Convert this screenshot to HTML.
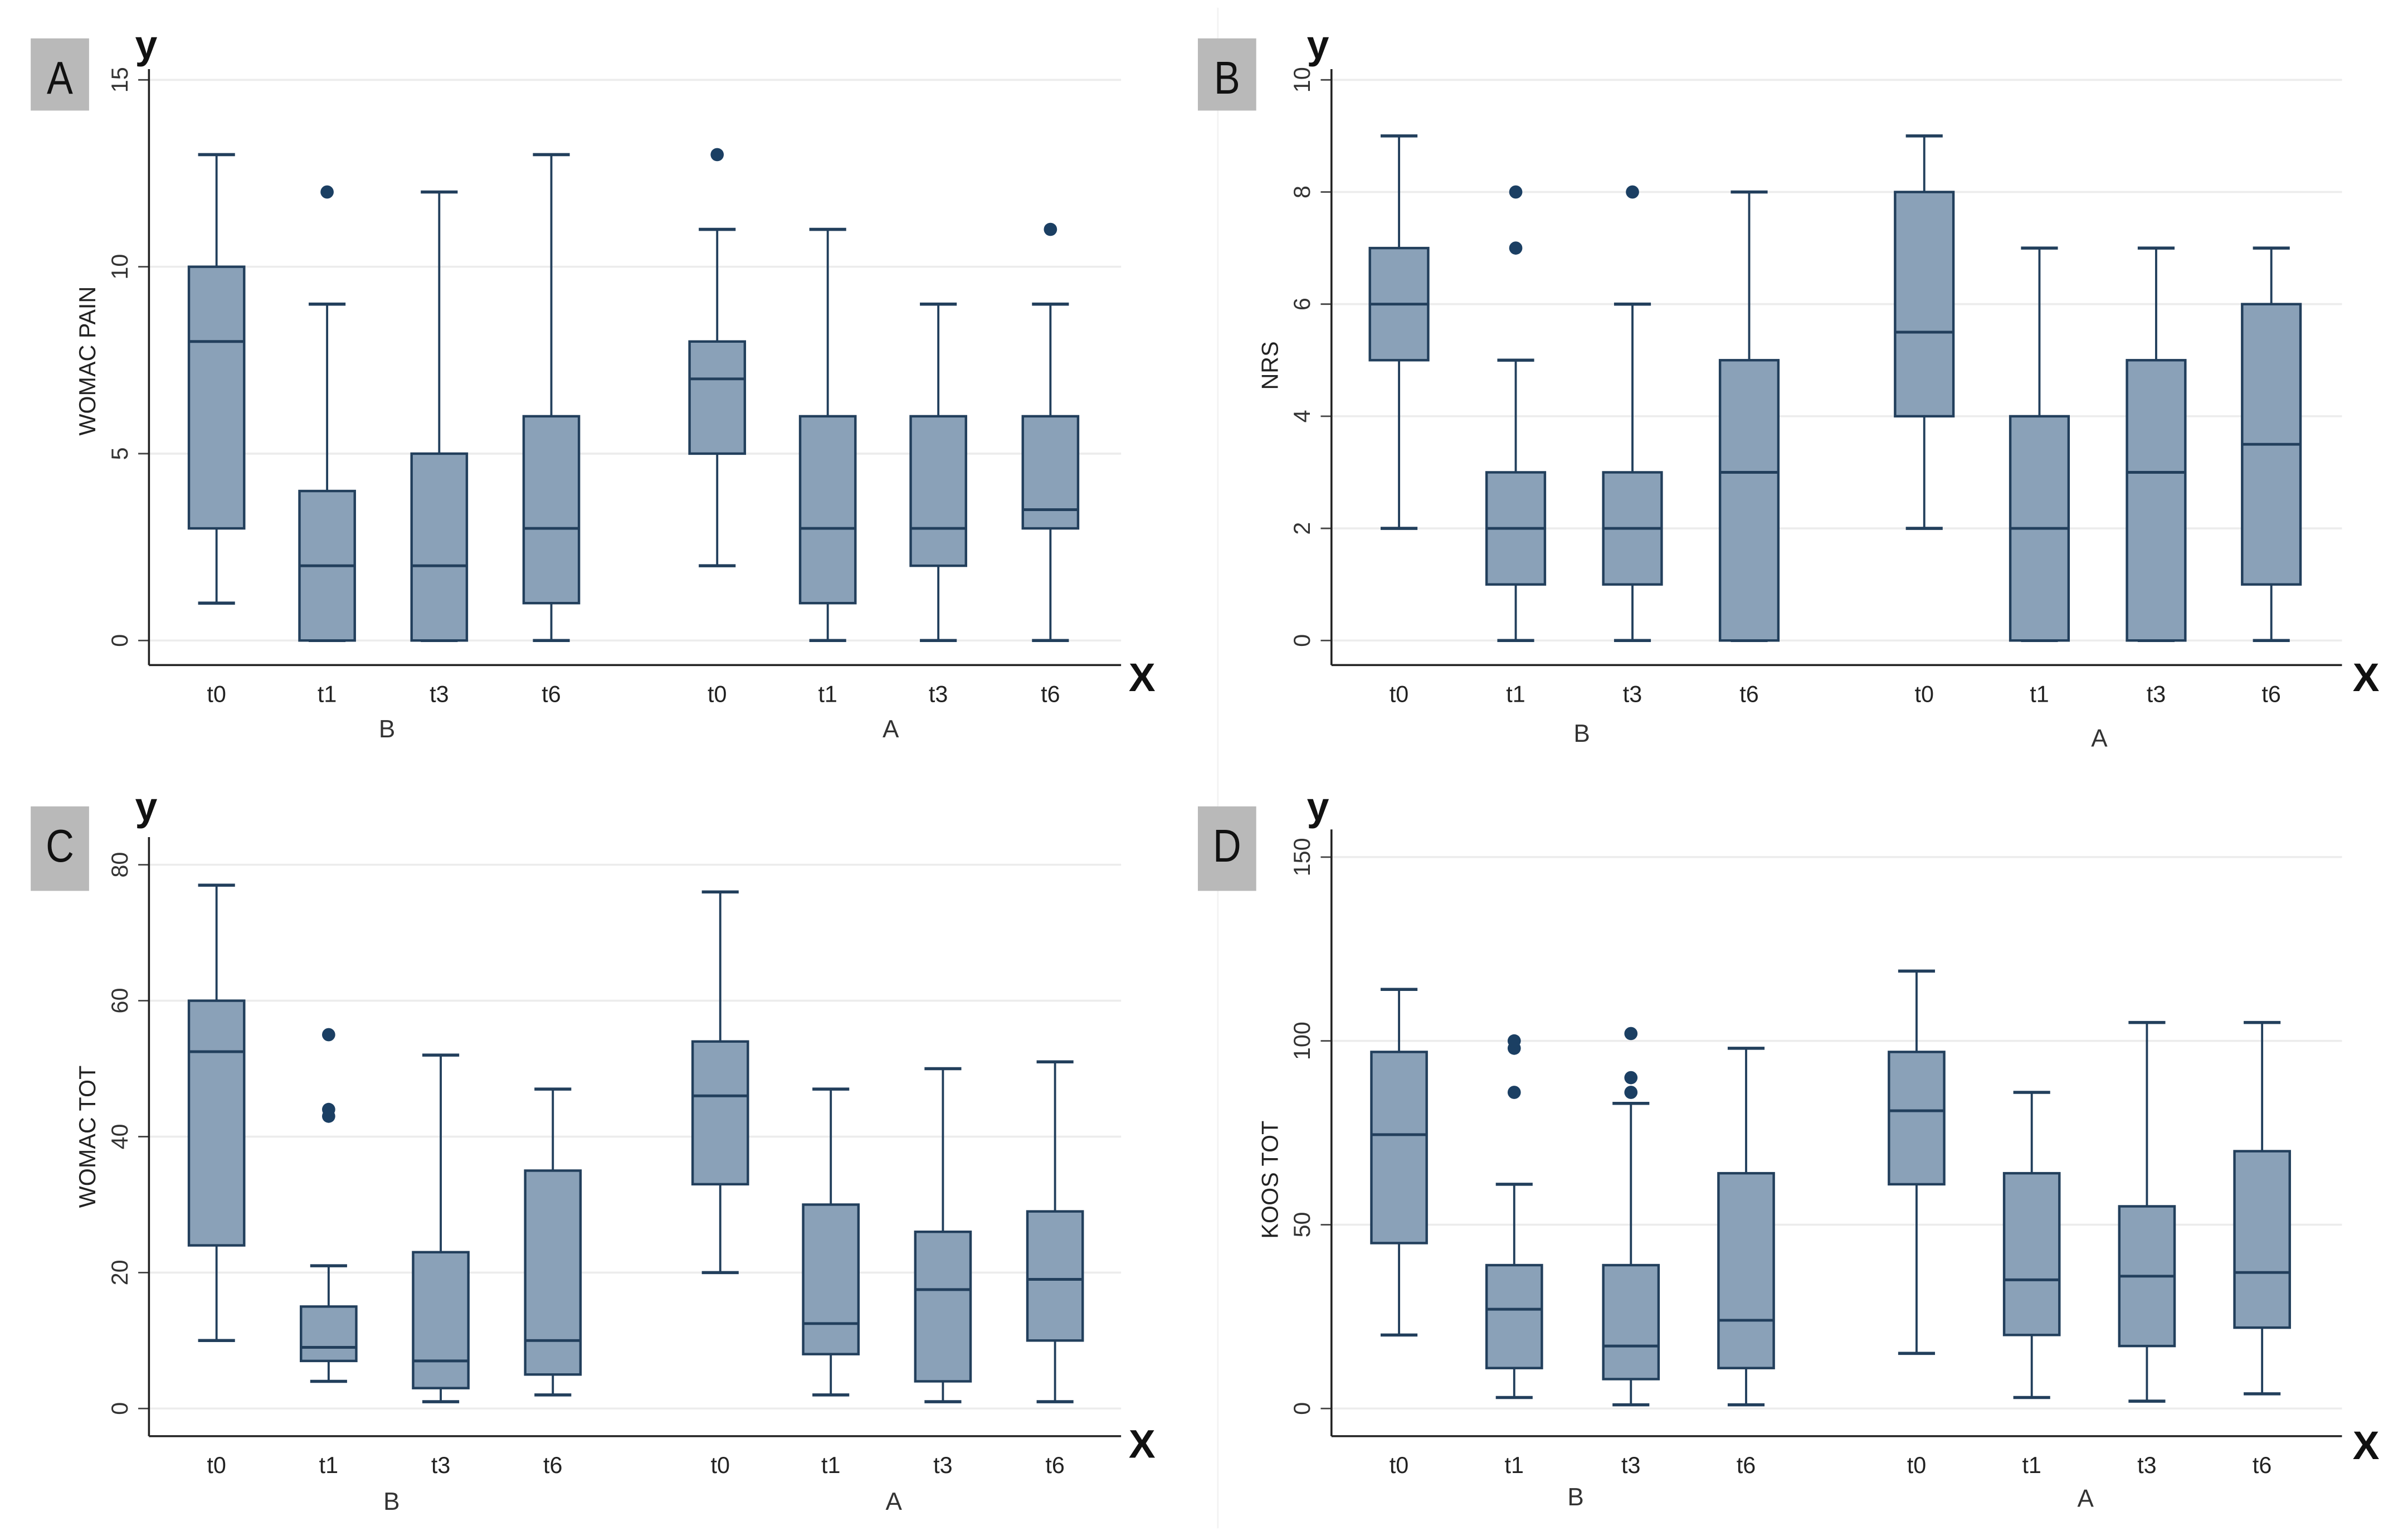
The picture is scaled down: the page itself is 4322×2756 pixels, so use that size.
<!DOCTYPE html>
<html><head><meta charset="utf-8"><style>
html,body{margin:0;padding:0;background:#fff;}
svg{display:block;}
text{font-family:"Liberation Sans",sans-serif;}
</style></head><body>
<svg id="fig" width="4322" height="2756" viewBox="0 0 1568 1000" preserveAspectRatio="none" xmlns="http://www.w3.org/2000/svg">
<line x1="793" y1="5" x2="793" y2="995" stroke="#f2f2f2" stroke-width="1"/>
</svg>
<script>
// categories
const timeLabels = ["t0","t1","t3","t6","t0","t1","t3","t6"];
const groupLabels = ["B","A"];
// Panel A: WOMAC PAIN
const aLow  = [1,0,0,0, 2,0,0,0];
const aQ1   = [3,0,0,1, 5,1,2,3];
const aMed  = [8,2,2,3, 7,3,3,3.5];
const aQ3   = [10,4,5,6, 8,6,6,6];
const aHigh = [13,9,12,13, 11,11,9,9];
const aOut  = [[],[12],[],[], [13],[],[],[11]];
const aTicks = [0,5,10,15];
// Panel B: NRS
const bLow  = [2,0,0,0, 2,0,0,0];
const bQ1   = [5,1,1,0, 4,0,0,1];
const bMed  = [6,2,2,3, 5.5,2,3,3.5];
const bQ3   = [7,3,3,5, 8,4,5,6];
const bHigh = [9,5,6,8, 9,7,7,7];
const bOut  = [[],[7,8],[8],[], [],[],[],[]];
const bTicks = [0,2,4,6,8,10];
// Panel C: WOMAC TOT
const cLow  = [10,4,1,2, 20,2,1,1];
const cQ1   = [24,7,3,5, 33,8,4,10];
const cMed  = [52.5,9,7,10, 46,12.5,17.5,19];
const cQ3   = [60,15,23,35, 54,30,26,29];
const cHigh = [77,21,52,47, 76,47,50,51];
const cOut  = [[],[43,44,55],[],[], [],[],[],[]];
const cTicks = [0,20,40,60,80];
// Panel D: KOOS TOT
const dLow  = [20,3,1,1, 15,3,2,4];
const dQ1   = [45,11,8,11, 61,20,17,22];
const dMed  = [74.5,27,17,24, 81,35,36,37];
const dQ3   = [97,39,39,64, 97,64,55,70];
const dHigh = [114,61,83,98, 119,86,105,105];
const dOut  = [[],[86,98,100],[86,90,102],[], [],[],[],[]];
const dTicks = [0,50,100,150];

const NS = "http://www.w3.org/2000/svg";
const svg = document.getElementById("fig");
function el(tag, attrs, parent){
  const e = document.createElementNS(NS, tag);
  for (const k in attrs) e.setAttribute(k, attrs[k]);
  (parent||svg).appendChild(e);
  return e;
}
const FILL="#8aa1b8", STROKE="#223f5c", DOT="#1b3f63";

const panels = [
  {letter:"A", title:"WOMAC PAIN", tc:235, ax:97, xEnd:730, y0:417, ymaxPix:52, ymax:15, top:45, xaxis:433,
   centers:[141,213,286,359,467,539,611,684], bw:36, grp:[[252,480],[580,480]], lbl:[20,25], yl:[88,38], xl:[735,450],
   lo:aLow,q1:aQ1,md:aMed,q3:aQ3,hi:aHigh,out:aOut,ticks:aTicks},
  {letter:"B", title:"NRS", tc:238, ax:867, xEnd:1525, y0:417, ymaxPix:52, ymax:10, top:45, xaxis:433,
   centers:[911,987,1063,1139,1253,1328,1404,1479], bw:38, grp:[[1030,483],[1367,486]], lbl:[780,25], yl:[851,38], xl:[1532,450],
   lo:bLow,q1:bQ1,md:bMed,q3:bQ3,hi:bHigh,out:bOut,ticks:bTicks},
  {letter:"C", title:"WOMAC TOT", tc:740, ax:97, xEnd:730, y0:917, ymaxPix:563, ymax:80, top:545, xaxis:935,
   centers:[141,214,287,360,469,541,614,687], bw:36, grp:[[255,983],[582,983]], lbl:[20,525], yl:[88,534], xl:[735,949],
   lo:cLow,q1:cQ1,md:cMed,q3:cQ3,hi:cHigh,out:cOut,ticks:cTicks},
  {letter:"D", title:"KOOS TOT", tc:768, ax:867, xEnd:1525, y0:917, ymaxPix:558, ymax:150, top:540, xaxis:935,
   centers:[911,986,1062,1137,1248,1323,1398,1473], bw:36, grp:[[1026,980],[1358,981]], lbl:[780,525], yl:[851,534], xl:[1532,950],
   lo:dLow,q1:dQ1,md:dMed,q3:dQ3,hi:dHigh,out:dOut,ticks:dTicks}
];

panels.forEach(p=>{
  const g = el("g",{});
  
  
  const y = v => p.y0 - (v/p.ymax)*(p.y0-p.ymaxPix);
  const lb = el("rect",{x:p.lbl[0],y:p.lbl[1],width:38,height:p.letter==="A"||p.letter==="B"?47:55,fill:"#b9b9b9"},g);
  
  
  const lt = el("text",{x:p.lbl[0]+19,y:p.lbl[1]+36,"text-anchor":"middle","font-size":30,fill:"#111",transform:`translate(${(p.lbl[0]+19)*0.15},0) scale(0.85,1)`},g);
  lt.textContent=p.letter;
  
  
  p.ticks.forEach(t=>{
    const yy=y(t);
    const gl=el("line",{x1:p.ax,x2:p.xEnd,y1:yy,y2:yy,stroke:"#ececec","stroke-width":1.3},g);
    
    
    const tk=el("line",{x1:p.ax-7,x2:p.ax,y1:yy,y2:yy,stroke:"#444","stroke-width":1},g);
    
    
    const tl=el("text",{x:0,y:0,transform:`translate(${p.ax-14},${yy}) rotate(-90)`,"text-anchor":"middle","font-size":15,fill:"#333"},g);
    tl.textContent=t;
    
    
  });
  const ya=el("line",{x1:p.ax,x2:p.ax,y1:p.top,y2:p.xaxis,stroke:"#222","stroke-width":1.3},g);
  
  
  const xa=el("line",{x1:p.ax,x2:p.xEnd,y1:p.xaxis,y2:p.xaxis,stroke:"#222","stroke-width":1.3},g);
  
  
  const yt=el("text",{x:0,y:0,transform:`translate(${p.ax-35},${p.tc}) rotate(-90)`,"text-anchor":"middle","font-size":15,fill:"#222"},g);
  yt.textContent=p.title;
  
  
  const ylab=el("text",{x:p.yl[0],y:p.yl[1],"font-size":26,"font-weight":"bold",fill:"#111"},g);
  ylab.textContent="y";
  
  
  const xlab=el("text",{x:p.xl[0],y:p.xl[1],"font-size":26,"font-weight":"bold",fill:"#111"},g);
  xlab.textContent="X";
  
  
  p.centers.forEach((cx,i)=>{
    const hw=p.bw/2, cw=12;
    const bg=el("g",{},g);
    
    
    el("line",{x1:cx,x2:cx,y1:y(p.hi[i]),y2:y(p.q3[i]),stroke:STROKE,"stroke-width":1.4},bg);
    el("line",{x1:cx,x2:cx,y1:y(p.q1[i]),y2:y(p.lo[i]),stroke:STROKE,"stroke-width":1.4},bg);
    el("line",{x1:cx-cw,x2:cx+cw,y1:y(p.hi[i]),y2:y(p.hi[i]),stroke:STROKE,"stroke-width":2},bg);
    el("line",{x1:cx-cw,x2:cx+cw,y1:y(p.lo[i]),y2:y(p.lo[i]),stroke:STROKE,"stroke-width":2},bg);
    el("rect",{x:cx-hw,y:y(p.q3[i]),width:p.bw,height:Math.max(0.5,y(p.q1[i])-y(p.q3[i])),fill:FILL,stroke:STROKE,"stroke-width":1.6},bg);
    el("line",{x1:cx-hw,x2:cx+hw,y1:y(p.md[i]),y2:y(p.md[i]),stroke:STROKE,"stroke-width":1.8},bg);
    p.out[i].forEach(o=>{
      const c=el("circle",{cx:cx,cy:y(o),r:4.3,fill:DOT},bg);
      
      
    });
    const xl=el("text",{x:cx,y:p.xaxis+24,"text-anchor":"middle","font-size":15,fill:"#222"},g);
    xl.textContent=timeLabels[i];
    
    
  });
  p.grp.forEach((gp,j)=>{
    const t=el("text",{x:gp[0],y:gp[1],"text-anchor":"middle","font-size":16,fill:"#333"},g);
    t.textContent=groupLabels[j];
    
    
  });
});
</script>
</body></html>
